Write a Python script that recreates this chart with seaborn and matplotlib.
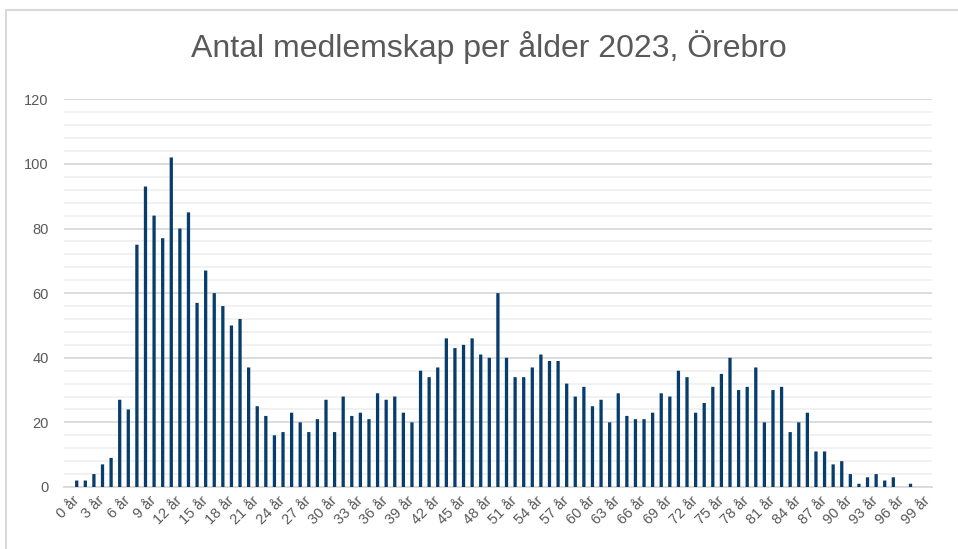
import numpy as np
import pandas as pd
import matplotlib.pyplot as plt
import seaborn as sns
from matplotlib.patches import Rectangle
from matplotlib.ticker import MultipleLocator

# Data
ages = list(range(100))
age_labels = [f"{a} år" for a in ages]
members = [
    2, 2, 4, 7, 9, 27, 24, 75, 93, 84,
    77, 102, 80, 85, 57, 67, 60, 56, 50, 52,
    37, 25, 22, 16, 17, 23, 20, 17, 21, 27,
    17, 28, 22, 23, 21, 29, 27, 28, 23, 20,
    36, 34, 37, 46, 43, 44, 46, 41, 40, 60,
    40, 34, 34, 37, 41, 39, 39, 32, 28, 31,
    25, 27, 20, 29, 22, 21, 21, 23, 29, 28,
    36, 34, 23, 26, 31, 35, 40, 30, 31, 37,
    20, 30, 31, 17, 20, 23, 11, 11, 7, 8,
    4, 1, 3, 4, 2, 3, 0, 1, 0, 0,
]
title = "Antal medlemskap per ålder 2023, Örebro"

df = pd.DataFrame({"Ålder": age_labels, "Antal": members})

sns.set_theme(style="white")
plt.rcParams["font.family"] = ["Liberation Sans", "DejaVu Sans"]

W, H = 958, 549
fig = plt.figure(figsize=(W / 100, H / 100), dpi=100)
ax = fig.add_axes([64 / W, (H - 487) / H, (932 - 64) / W, (487 - 99.3) / H])

sns.barplot(data=df, x="Ålder", y="Antal", color="#063d6c", width=0.38,
            saturation=1, ax=ax, zorder=3, linewidth=0)
for p in ax.patches:
    p.set_snap(False)

ax.set_xlim(-1.48, 99.5)
ax.set_ylim(0, 120)
ax.yaxis.set_major_locator(MultipleLocator(20))
ax.yaxis.set_minor_locator(MultipleLocator(4))
ax.grid(axis="y", which="major", color="#d9d9d9", linewidth=1.3, zorder=0)
ax.grid(axis="y", which="minor", color="#f0f0f0", linewidth=1.3, zorder=0)
ax.set_axisbelow(True)

ax.set_xticks(range(0, 100, 3))
ax.set_xticklabels([age_labels[i] for i in range(0, 100, 3)], rotation=45,
                   ha="right", va="center", rotation_mode="anchor")
ax.tick_params(axis="x", length=0, pad=8, labelsize=10.5, labelcolor="#595959")
ax.tick_params(axis="y", which="both", length=0, pad=11, labelsize=10.5,
               labelcolor="#595959")

for s in ["top", "right", "left"]:
    ax.spines[s].set_visible(False)
ax.spines["bottom"].set_color("#d9d9d9")
ax.spines["bottom"].set_linewidth(1.3)

ax.set_xlabel("")
ax.set_ylabel("")

fig.text(489 / W, 1 - 47 / H, title, ha="center", va="center",
         fontsize=23, color="#595959")

# chart frame (only top and left edges visible in the crop)
fig.patches.append(Rectangle((6 / W, -0.1), 1.2, 1 - 10 / H + 0.1,
                             transform=fig.transFigure, fill=False,
                             edgecolor="#d9d9d9", linewidth=1.5))

fig.savefig("out.png", dpi=100)
